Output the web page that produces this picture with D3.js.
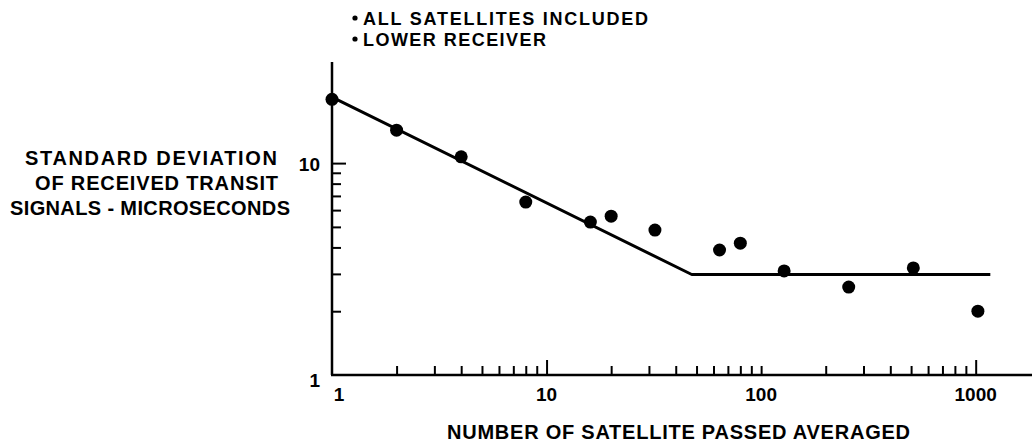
<!DOCTYPE html>
<html>
<head>
<meta charset="utf-8">
<script src="https://cdn.jsdelivr.net/npm/d3@7"></script>
<style>
  html, body { margin: 0; padding: 0; background: #fff; }
  svg { display: block; }
  text { font-family: "Liberation Sans", Arial, Helvetica, sans-serif; font-weight: bold; fill: #000; }
</style>
</head>
<body>
<script>
// Number of satellite passes averaged vs. standard deviation (microseconds)
const passes = [1, 2, 4, 8, 16, 20, 32, 64, 80, 128, 256, 512, 1024];
const stdDev = [20.0, 14.3, 10.7, 6.55, 5.27, 5.62, 4.83, 3.89, 4.19, 3.1, 2.6, 3.2, 2.0];

// Fitted trend: slope -1/2 on log-log, then levels off
const fitPasses = [1, 47.5, 1170];
const fitStdDev = [20.5, 2.98, 2.98];

const xTickLabels = [1, 10, 100, 1000];
const yTickLabels = [1, 10];
const xMinorTicks = [2,3,4,5,6,7,8,9, 20,30,40,50,60,70,80,90,100, 200,300,400,500,600,700,800,900];
const xMajorTicks = [10, 1000];
const yMinorTicks = [2,3,4,5,6,7,8,9];
const yMajorTicks = [10];

const notes = ["ALL SATELLITES INCLUDED", "LOWER RECEIVER"];
const yTitle = ["STANDARD DEVIATION", "OF RECEIVED TRANSIT", "SIGNALS - MICROSECONDS"];
const xTitle = "NUMBER OF SATELLITE PASSED AVERAGED";

const W = 1032, H = 445;
const svg = d3.select("body").append("svg").attr("width", W).attr("height", H);

const x = d3.scaleLog().domain([1, 1830]).range([332, 1032]);
const y = d3.scaleLog().domain([1, 30]).range([375, 62]);

// axis lines
svg.append("line").attr("x1", x(1)).attr("x2", x(1)).attr("y1", y(30)).attr("y2", y(1))
  .attr("stroke", "#000").attr("stroke-width", 2.5);
svg.append("line").attr("x1", x(1) - 1).attr("x2", x(1830)).attr("y1", y(1)).attr("y2", y(1))
  .attr("stroke", "#000").attr("stroke-width", 2.5);

// x ticks point up into the plot
const xAxisMinor = d3.axisTop(x).tickValues(xMinorTicks).tickSize(9).tickFormat("");
const xAxisMajor = d3.axisTop(x).tickValues(xMajorTicks).tickSize(15).tickFormat("");
[xAxisMinor, xAxisMajor].forEach(ax => {
  const g = svg.append("g").attr("transform", `translate(0,${y(1)})`).call(ax);
  g.select(".domain").remove();
  g.selectAll(".tick line").attr("stroke", "#000").attr("stroke-width", 2);
});

// y ticks point right into the plot
const yAxisMinor = d3.axisRight(y).tickValues(yMinorTicks).tickSize(9).tickFormat("");
const yAxisMajor = d3.axisRight(y).tickValues(yMajorTicks).tickSize(14).tickFormat("");
[yAxisMinor, yAxisMajor].forEach(ax => {
  const g = svg.append("g").attr("transform", `translate(${x(1)},0)`).call(ax);
  g.select(".domain").remove();
  g.selectAll(".tick line").attr("stroke", "#000").attr("stroke-width", 2);
});

// tick labels
svg.selectAll(".xlab").data(xTickLabels).enter().append("text")
  .attr("x", d => x(d) + (d === 1 ? 7 : 0))
  .attr("y", 401)
  .attr("text-anchor", "middle")
  .attr("font-size", 19)
  .text(d => d);

svg.selectAll(".ylab").data(yTickLabels).enter().append("text")
  .attr("x", 320)
  .attr("y", d => y(d) + (d === 1 ? 12 : 8))
  .attr("text-anchor", "end")
  .attr("font-size", 19)
  .text(d => d);

// fitted line
const line = d3.line().x(d => x(d[0])).y(d => y(d[1]));
svg.append("path")
  .datum(d3.zip(fitPasses, fitStdDev))
  .attr("d", line)
  .attr("fill", "none")
  .attr("stroke", "#000")
  .attr("stroke-width", 3)
  .attr("stroke-linejoin", "round");

// measured points
svg.selectAll(".pt").data(d3.zip(passes, stdDev)).enter().append("circle")
  .attr("cx", d => x(d[0]))
  .attr("cy", d => y(d[1]))
  .attr("r", 6.5)
  .attr("fill", "#000");

// notes at top
const noteY = [25, 46];
const noteW = [285, 183];
notes.forEach((t, i) => {
  svg.append("circle").attr("cx", 355).attr("cy", noteY[i] - 7).attr("r", 2.6).attr("fill", "#000");
  svg.append("text")
    .attr("x", 363).attr("y", noteY[i])
    .attr("font-size", 18)
    .attr("textLength", noteW[i]).attr("lengthAdjust", "spacing")
    .text(t);
});

// y title
const yTitleX = [25, 35, 10];
const yTitleW = [252, 243, 280];
const yTitleY = [165, 190, 215];
yTitle.forEach((t, i) => {
  svg.append("text")
    .attr("x", yTitleX[i]).attr("y", yTitleY[i])
    .attr("font-size", 20)
    .attr("textLength", yTitleW[i]).attr("lengthAdjust", "spacing")
    .text(t);
});

// x title
svg.append("text")
  .attr("x", 447).attr("y", 439)
  .attr("font-size", 20)
  .attr("textLength", 463).attr("lengthAdjust", "spacing")
  .text(xTitle);
</script>
</body>
</html>
